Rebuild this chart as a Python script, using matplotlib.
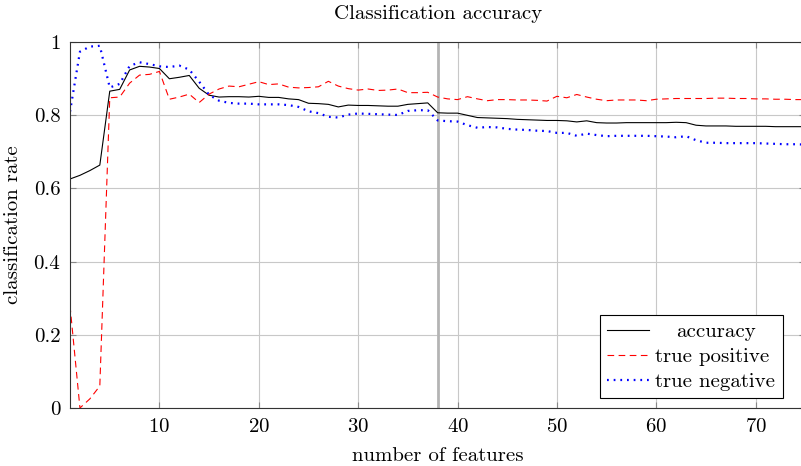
#!/usr/bin/env python3
"""Classification accuracy vs. number of features."""

import matplotlib
matplotlib.use("Agg")
import matplotlib.pyplot as plt
import numpy as np

plt.rcParams["font.family"] = ["cmr10", "DejaVu Serif"]
plt.rcParams["axes.formatter.use_mathtext"] = True
plt.rcParams["mathtext.fontset"] = "cm"

n_features = np.arange(1, 76)

accuracy = [
    0.626, 0.636, 0.649, 0.664, 0.866, 0.871, 0.924, 0.934, 0.932, 0.928,
    0.900, 0.904, 0.909, 0.874, 0.855, 0.850, 0.851, 0.851, 0.850, 0.852,
    0.849, 0.849, 0.845, 0.843, 0.833, 0.832, 0.830, 0.823, 0.828, 0.827,
    0.827, 0.826, 0.825, 0.825, 0.830, 0.832, 0.834, 0.807, 0.806, 0.806,
    0.800, 0.794, 0.793, 0.792, 0.791, 0.789, 0.788, 0.787, 0.786, 0.786,
    0.785, 0.782, 0.785, 0.780, 0.779, 0.779, 0.780, 0.780, 0.780, 0.780,
    0.780, 0.781, 0.780, 0.773, 0.771, 0.771, 0.771, 0.770, 0.770, 0.770,
    0.770, 0.769, 0.769, 0.769, 0.769,
]

true_positive = [
    0.280, 0.000, 0.025, 0.060, 0.848, 0.850, 0.888, 0.910, 0.912, 0.920,
    0.844, 0.850, 0.858, 0.835, 0.858, 0.872, 0.880, 0.878, 0.885, 0.892,
    0.884, 0.886, 0.877, 0.875, 0.876, 0.878, 0.893, 0.880, 0.873, 0.869,
    0.872, 0.868, 0.869, 0.872, 0.862, 0.862, 0.863, 0.850, 0.845, 0.843,
    0.851, 0.845, 0.840, 0.843, 0.843, 0.842, 0.842, 0.841, 0.839, 0.852,
    0.848, 0.857, 0.850, 0.844, 0.840, 0.842, 0.842, 0.842, 0.840, 0.844,
    0.845, 0.846, 0.846, 0.846, 0.846, 0.847, 0.847, 0.846, 0.846, 0.845,
    0.845, 0.844, 0.844, 0.843, 0.843,
]

true_negative = [
    0.810, 0.974, 0.988, 0.990, 0.876, 0.886, 0.935, 0.945, 0.940, 0.934,
    0.932, 0.936, 0.925, 0.892, 0.856, 0.840, 0.834, 0.832, 0.832, 0.830,
    0.830, 0.830, 0.828, 0.823, 0.811, 0.806, 0.796, 0.794, 0.802, 0.805,
    0.804, 0.803, 0.802, 0.801, 0.812, 0.814, 0.814, 0.786, 0.784, 0.783,
    0.773, 0.766, 0.768, 0.767, 0.763, 0.761, 0.760, 0.758, 0.757, 0.752,
    0.752, 0.744, 0.750, 0.746, 0.743, 0.744, 0.744, 0.744, 0.744, 0.743,
    0.742, 0.740, 0.743, 0.732, 0.725, 0.725, 0.724, 0.724, 0.724, 0.724,
    0.723, 0.722, 0.721, 0.721, 0.720,
]

selected_features = 38

x_ticks = [10, 20, 30, 40, 50, 60, 70]
y_ticks = [0, 0.2, 0.4, 0.6, 0.8, 1.0]
y_tick_labels = ["0", "0.2", "0.4", "0.6", "0.8", "1"]

FS = 15


def main() -> None:
    fig = plt.figure(figsize=(8.01, 4.66), dpi=100)
    ax = fig.add_axes([0.0874, 0.1245, 0.918, 0.785])

    ax.plot(n_features, accuracy, color="black", linewidth=0.8, label="accuracy")
    ax.plot(n_features, true_positive, color="red", linewidth=0.8,
            linestyle=(0, (6, 4)), label="true positive")
    ax.plot(n_features, true_negative, color="blue", linewidth=1.6,
            linestyle=(0, (0.8, 2.2)), label="true negative")
    ax.axvline(selected_features, color="#b4b4b4", linewidth=2.0, zorder=1)

    ax.set_xlim(1, 75)
    ax.set_ylim(0, 1)
    ax.set_xticks(x_ticks)
    ax.set_yticks(y_ticks, y_tick_labels)
    ax.tick_params(direction="in", length=4, width=0.8, color="#888888",
                   labelsize=FS, top=True, right=True, pad=7)
    ax.grid(True, color="#c8c8c8", linewidth=0.8)
    ax.set_axisbelow(True)
    for side in ("left", "bottom", "top", "right"):
        ax.spines[side].set_linewidth(0.8)
        ax.spines[side].set_color("#333333")

    ax.set_xlabel("number of features", fontsize=FS, labelpad=8)
    ax.set_ylabel("classification rate", fontsize=FS, labelpad=8)
    ax.set_title("Classification accuracy", fontsize=FS, pad=17)

    leg = ax.legend(loc="lower right", bbox_to_anchor=(0.969, 0.027),
                    borderaxespad=0, fontsize=FS, frameon=True, fancybox=False,
                    edgecolor="black", framealpha=1, borderpad=0.35,
                    labelspacing=0.3, handlelength=2.0, handletextpad=0.3)
    leg.get_frame().set_linewidth(0.8)
    # pgfplots centres the legend texts; nudge the short one
    leg.get_texts()[0].set_x(21)

    fig.savefig("out.png", dpi=100)
    plt.close(fig)


if __name__ == "__main__":
    main()
